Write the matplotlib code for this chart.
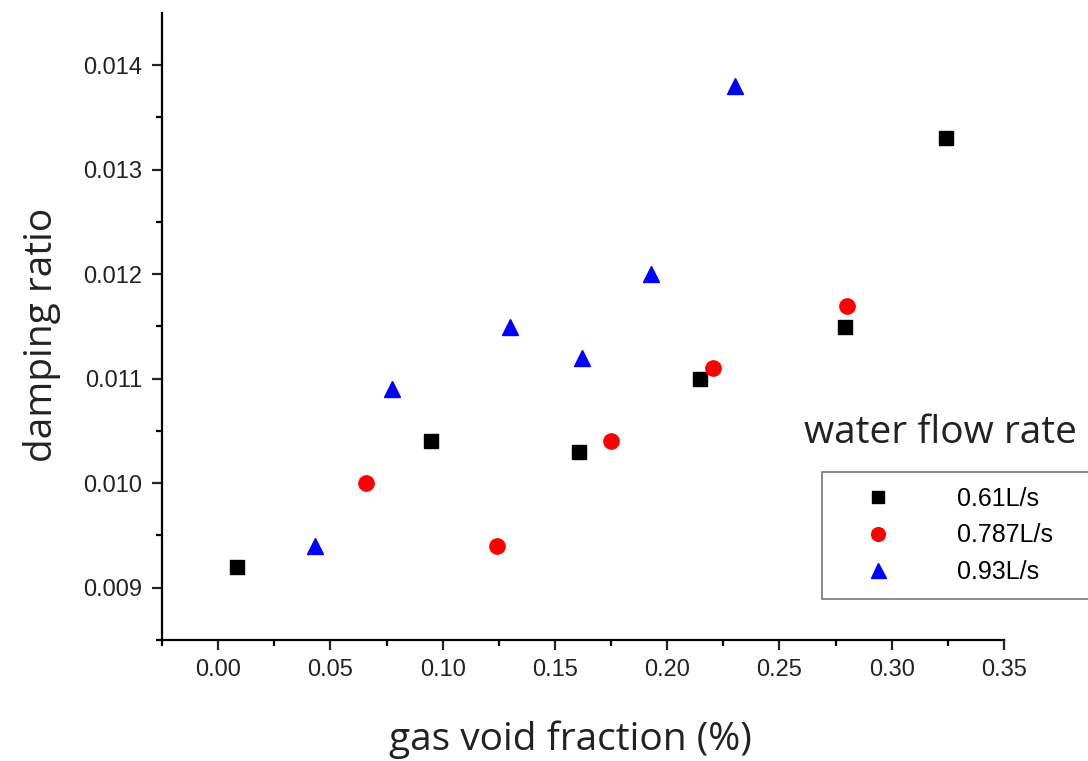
import numpy as np
import matplotlib.pyplot as plt

# data
x_061 = [0.0085, 0.0948, 0.1607, 0.2146, 0.279, 0.324]
y_061 = [0.0092, 0.0104, 0.0103, 0.0110, 0.0115, 0.0133]
x_0787 = [0.0659, 0.1242, 0.175, 0.2204, 0.280]
y_0787 = [0.0100, 0.0094, 0.0104, 0.0111, 0.0117]
x_093 = [0.0432, 0.0775, 0.130, 0.162, 0.1928, 0.230]
y_093 = [0.0094, 0.0109, 0.0115, 0.0112, 0.0120, 0.0138]
labels = ['0.61L/s', '0.787L/s', '0.93L/s']

plt.rcParams['font.family'] = ['Liberation Sans', 'DejaVu Sans']

fig = plt.figure(figsize=(10.88, 7.61), dpi=100)
ax = fig.add_axes([162/1088, 1-640/761, (1004-162)/1088, (640-13)/761])

ax.plot(x_061, y_061, ls='none', marker='s', ms=10, color='black', label=labels[0])
ax.plot(x_0787, y_0787, ls='none', marker='o', ms=11, color='red', label=labels[1])
ax.plot(x_093, y_093, ls='none', marker='^', ms=12, color='blue', label=labels[2])

ax.set_xlim(-0.025, 0.35)
ax.set_ylim(0.0085, 0.0145)
ax.set_xticks(np.arange(0, 0.351, 0.05))
ax.set_xticks(np.arange(-0.025, 0.351, 0.05), minor=True)
ax.set_yticks(np.arange(0.009, 0.01401, 0.001))
ax.set_yticks(np.arange(0.0085, 0.0145, 0.001), minor=True)
ax.xaxis.set_major_formatter(plt.FormatStrFormatter('%.2f'))
ax.yaxis.set_major_formatter(plt.FormatStrFormatter('%.3f'))

for s in ['top', 'right']:
    ax.spines[s].set_visible(False)
for s in ['left', 'bottom']:
    ax.spines[s].set_linewidth(1.6)
ax.tick_params(which='major', direction='out', length=7, width=1.6, labelsize=17, colors='#222222', pad=7)
ax.tick_params(which='minor', direction='out', length=4, width=1.6)

fig.text(570/1088, 1-740/761, 'gas void fraction (%)', family='Open Sans', fontsize=28,
         ha='center', va='center', color='#222222')
fig.text(42/1088, 1-335/761, 'damping ratio', family='Open Sans', fontsize=28,
         ha='center', va='center', rotation=90, color='#222222')
fig.text(940/1088, 1-433/761, 'water flow rate', family='Open Sans', fontsize=28,
         ha='center', va='center', color='#222222')

# legend box runs off the right edge in the original
leg = ax.legend(loc='upper left', bbox_to_anchor=(822/1088, 1-600/761, 280/1088, 128/761),
                bbox_transform=fig.transFigure, borderaxespad=0, mode='expand', fontsize=18,
                fancybox=False, edgecolor='#555555', labelspacing=0.5,
                handletextpad=1.5, borderpad=0.6, handlelength=3.3, markerscale=0.9)
leg.get_frame().set_linewidth(1.2)

fig.savefig('out.png', dpi=100)
